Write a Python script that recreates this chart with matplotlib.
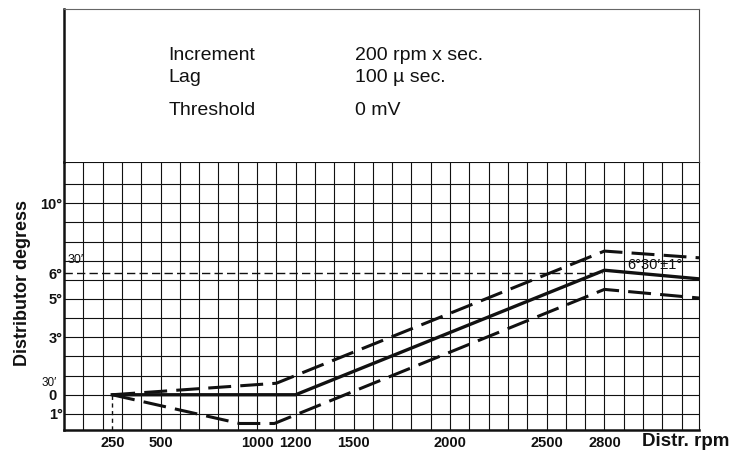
"""Distributor advance curve: nominal value and tolerance band over rpm."""
import matplotlib
matplotlib.use("Agg")
import matplotlib.pyplot as plt
import matplotlib.transforms as mtransforms

plt.rcParams['font.family'] = ['Liberation Sans', 'DejaVu Sans']

# axis labels
rpm_ticks = [250, 500, 1000, 1200, 1500, 2000, 2500, 2800]
deg_label_values = [10, 6.35, 5, 3, 0, -1]
deg_label_texts = ["10°", "6°", "5°", "3°", "0", "1°"]

# nominal curve and the two tolerance limits
rpm_nominal = [250, 1200, 2800, 3290]
deg_nominal = [0, 0, 6.5, 6.05]
rpm_upper = [250, 1100, 2800, 3290]
deg_upper = [0, 0.6, 7.5, 7.15]
rpm_lower = [250, 910, 1090, 2800, 3290]
deg_lower = [0, -1.5, -1.5, 5.5, 5.05]

ref_level = 6.38
ref_end_rpm = 2790
start_rpm = 250

header_keys = ["Increment", "Lag", "Threshold"]
header_values = ["200 rpm x sec.", "100 µ sec.", "0 mV"]

RPM_MAX = 3290
DEG_MIN, DEG_MAX = -1.84, 12.15
INK = '#111111'


def draw_header(fig):
    hx = fig.add_axes([0.08696, 0.64238, 0.86277, 0.33665])
    hx.set_xticks([])
    hx.set_yticks([])
    hx.spines['bottom'].set_visible(False)
    hx.spines['left'].set_linewidth(1.8)
    hx.spines['left'].set_color(INK)
    hx.spines['top'].set_linewidth(0.8)
    hx.spines['top'].set_color('#666666')
    hx.spines['right'].set_linewidth(0.8)
    hx.spines['right'].set_color('#444444')
    baselines = [0.67, 0.525, 0.307]
    for key, val, yb in zip(header_keys, header_values, baselines):
        hx.text(0.164, yb, key, fontsize=14, va='baseline', ha='left', color=INK,
                transform=hx.transAxes)
        hx.text(0.458, yb, val, fontsize=14, va='baseline', ha='left', color=INK,
                transform=hx.transAxes)


def draw_grid(ax):
    for r in range(100, 3300, 100):
        ax.axvline(r, color=INK, lw=0.8, zorder=1)
    for d in range(-1, 12):
        ax.axhline(d, color=INK, lw=0.8, zorder=1)


def draw_curves(ax):
    ax.plot(rpm_nominal, deg_nominal, color=INK, lw=2.4, zorder=4,
            solid_joinstyle='miter')
    ax.plot(rpm_upper, deg_upper, color=INK, lw=2.2, zorder=4,
            linestyle=(0, (7.5, 3)))
    ax.plot(rpm_lower, deg_lower, color=INK, lw=2.2, zorder=4,
            linestyle=(0, (7.5, 3)))
    # reference level and start marker
    ax.plot([0, ref_end_rpm], [ref_level, ref_level], color=INK, lw=1.0,
            linestyle=(0, (6, 3)), zorder=3)
    ax.plot([start_rpm, start_rpm], [DEG_MIN, 0], color=INK, lw=1.0,
            linestyle=(0, (3, 2.5)), zorder=3)
    ax.text(2920, 6.78, "6°30′±1°", fontsize=10.5, ha='left', va='center',
            color=INK, zorder=5)


def draw_labels(fig, ax):
    ax.set_xticks(rpm_ticks)
    ax.set_xticklabels([str(r) for r in rpm_ticks], fontsize=10.5,
                       fontweight='bold', color=INK)
    ax.tick_params(axis='x', length=0, pad=4)
    ax.set_yticks([])

    trans = mtransforms.blended_transform_factory(ax.transAxes, ax.transData)
    for val, txt in zip(deg_label_values, deg_label_texts):
        xoff = -0.002 if txt.endswith('°') else -0.011
        ax.text(xoff, val, txt, transform=trans, ha='right', va='center_baseline',
                fontsize=10.5, fontweight='bold', color=INK, clip_on=False)
    ax.text(-0.011, 0.62, "30′", transform=trans, ha='right', va='center',
            fontsize=8.5, color=INK, clip_on=False)
    ax.text(20, 7.05, "30′", ha='left', va='center', fontsize=9, color=INK)

    fig.text(0.030, 0.376, "Distributor degress", rotation=90, ha='center',
             va='center', fontsize=13, fontweight='bold', color=INK)
    fig.text(0.872, 0.0155, "Distr. rpm", ha='left', va='baseline',
             fontsize=13.5, fontweight='bold', color=INK)


fig = plt.figure(figsize=(7.36, 4.53), dpi=100)
ax = fig.add_axes([0.08696, 0.05077, 0.86277, 0.59161])
ax.set_xlim(0, RPM_MAX)
ax.set_ylim(DEG_MIN, DEG_MAX)
for side in ['left', 'bottom']:
    ax.spines[side].set_linewidth(1.8)
    ax.spines[side].set_color(INK)
for side in ['top', 'right']:
    ax.spines[side].set_linewidth(0.8)
    ax.spines[side].set_color(INK)

draw_grid(ax)
draw_curves(ax)
draw_labels(fig, ax)
draw_header(fig)

fig.savefig("out.png", dpi=100)
plt.close(fig)
